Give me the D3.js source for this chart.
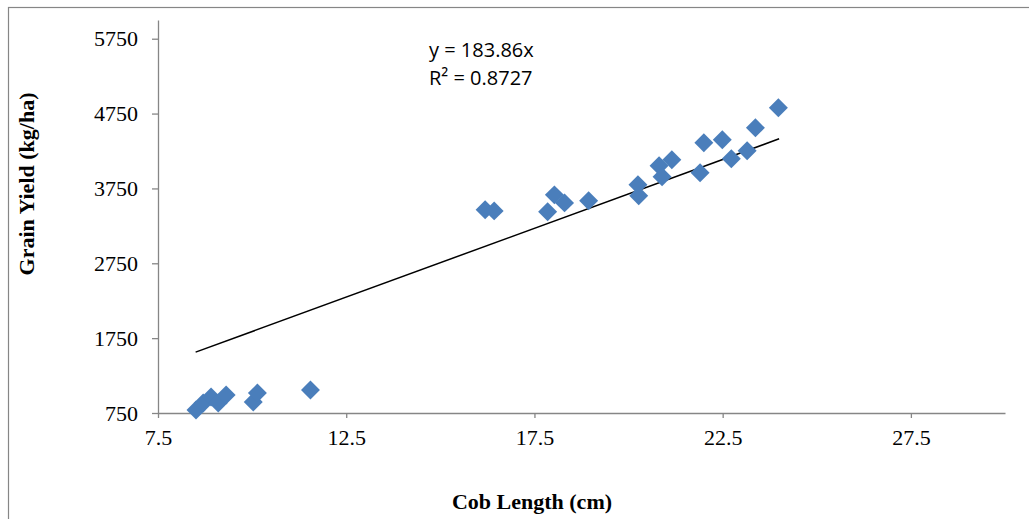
<!DOCTYPE html>
<html>
<head>
<meta charset="utf-8">
<script src="https://cdn.jsdelivr.net/npm/d3@7"></script>
<style>
  body { margin: 0; background: #fff; }
  svg { display: block; }
</style>
</head>
<body>
<div id="chart"></div>
<script>
// data
const cobLength = [8.51, 8.70, 8.91, 9.10, 9.31, 10.03, 10.14, 11.55,
                   16.19, 16.43, 17.85, 18.03, 18.30, 18.94,
                   20.25, 20.27, 20.81, 20.89, 21.15, 21.90, 22.00, 22.49, 22.73, 23.15, 23.37, 23.98];
const grainYield = [790, 884, 964, 884, 991, 897, 1017, 1057,
                    3464, 3450, 3437, 3664, 3557, 3584,
                    3798, 3651, 4052, 3905, 4132, 3959, 4360, 4400, 4146, 4253, 4560, 4828];
const xTicks = [7.5, 12.5, 17.5, 22.5, 27.5];
const yTicks = [750, 1750, 2750, 3750, 4750, 5750];
const slope = 183.86;
const rSquared = "0.8727";
const trendRange = [8.5, 24];

const W = 1029, H = 519;
const margin = {top: 20, right: 24, bottom: 106, left: 158};
const width = W - margin.left - margin.right;
const height = H - margin.top - margin.bottom;
const serif = "'Liberation Serif', 'Times New Roman', serif";

const root = d3.select("#chart").append("svg")
    .attr("width", W)
    .attr("height", H);

// outer chart frame (right and bottom edges fall outside the picture)
root.append("rect")
    .attr("x", 8.5).attr("y", 7.5)
    .attr("width", W + 10).attr("height", H + 10)
    .attr("fill", "none")
    .attr("stroke", "#868686")
    .attr("stroke-width", 1.2);

const svg = root.append("g")
    .attr("transform", `translate(${margin.left}, ${margin.top})`);

// scales
const x = d3.scaleLinear().domain([7.5, 30]).range([0, width]);
const y = d3.scaleLinear().domain([750, 6000]).range([height, 0]);

// x axis
const xAxis = svg.append("g")
    .attr("transform", `translate(0, ${height})`)
    .call(d3.axisBottom(x).tickValues(xTicks).tickSize(5).tickSizeOuter(0).tickPadding(11)
        .tickFormat(d => d.toFixed(1)));

// y axis
const yAxis = svg.append("g")
    .call(d3.axisLeft(y).tickValues(yTicks).tickSize(6).tickSizeOuter(0).tickPadding(14)
        .tickFormat(d3.format("d")));

[xAxis, yAxis].forEach(a => {
    a.select(".domain").attr("stroke", "#868686").attr("stroke-width", 1.3);
    a.selectAll(".tick line").attr("stroke", "#868686").attr("stroke-width", 1.3);
    a.selectAll(".tick text")
        .attr("fill", "#000")
        .style("font-family", serif)
        .style("font-size", "22px");
});

// trend line y = slope * x
svg.append("path")
    .datum(trendRange)
    .attr("fill", "none")
    .attr("stroke", "#000")
    .attr("stroke-width", 1.5)
    .attr("d", d3.line().x(d => x(d)).y(d => y(slope * d)));

// markers (diamonds)
const diamond = d3.symbol().type(d3.symbolSquare).size(180);
svg.selectAll(".pt")
    .data(cobLength.map((c, i) => ({c: c, g: grainYield[i]})))
    .enter().append("path")
    .attr("class", "pt")
    .attr("d", diamond)
    .attr("transform", d => `translate(${x(d.c)}, ${y(d.g)}) rotate(45)`)
    .attr("fill", "#4A7EBB");

// equation label
const eq = root.append("text")
    .style("font-family", "'Open Sans', 'Noto Sans', sans-serif")
    .style("font-size", "20px")
    .attr("fill", "#000");
eq.append("tspan").attr("x", 429).attr("y", 57).text(`y = ${slope}x`);
eq.append("tspan").attr("x", 429).attr("y", 85).text(`R² = ${rSquared}`);

// axis titles
root.append("text")
    .attr("x", 532)
    .attr("y", 509)
    .attr("text-anchor", "middle")
    .style("font-family", serif)
    .style("font-size", "22px")
    .style("font-weight", "bold")
    .text("Cob Length (cm)");

root.append("text")
    .attr("text-anchor", "middle")
    .attr("transform", "translate(34, 184) rotate(-90)")
    .style("font-family", serif)
    .style("font-size", "22px")
    .style("font-weight", "bold")
    .text("Grain Yield (kg/ha)");
</script>
</body>
</html>
